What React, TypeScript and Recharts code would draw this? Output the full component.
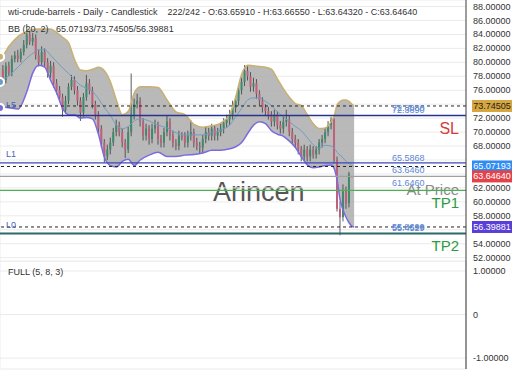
import React from "react";
import {
  Area,
  Bar,
  CartesianGrid,
  ComposedChart,
  Line,
  ReferenceLine,
  XAxis,
  YAxis,
} from "recharts";

const FONT = '"Liberation Sans", Arial, sans-serif';

// daily candles (one entry per ~3px)
const opens = [
  79, 77.5, 79.5, 78.5, 80.5, 81, 80.5, 81.5, 82.5, 84,
  83, 83.5, 81, 80, 81.5, 80, 78.5, 79.5, 77, 76,
  75, 73.2, 74.5, 76.5, 77.5, 76, 74.5, 72.8, 75, 77,
  76, 74, 72.5, 70.5, 68.5, 66.5, 67.5, 68.5, 70, 71,
  70, 68.5, 67.5, 70, 72.5, 74, 74.5, 71.5, 69.5, 70.5,
  69, 70.5, 71, 69, 68.5, 70, 71.5, 69.5, 68.5, 68,
  69.5, 69.5, 68.5, 69.5, 70, 68.5, 68, 67.8, 69, 70,
  69.5, 70.5, 69.5, 70, 70.5, 71.3, 71.8, 72.5, 73.5, 74.5,
  76, 77.2, 78.8, 78, 76.5, 77, 75.5, 74.5, 73.5, 73,
  72.5, 71.5, 72.5, 71, 70.5, 71.5, 71.8, 70, 69, 68.5,
  67.5, 66.5, 67.5, 66.5, 67.5, 66.8, 67.5, 68.5, 69, 70,
  71, 71.8, 66, 59, 57.8, 61.5, 59.8, 63.6591,
];
const highs = [
  79.6, 80.0, 80.1, 81.0, 81.6, 81.8, 82.0, 83.2, 85.5, 84.6,
  84.2, 84.0, 81.8, 82.3, 82.0, 80.6, 80.2, 80.0, 77.6, 76.6,
  75.5, 75.2, 77.0, 78.2, 78.0, 76.6, 75.0, 75.6, 78.2, 77.6,
  76.5, 74.5, 73.0, 71.0, 69.0, 68.2, 69.2, 70.6, 71.8, 71.5,
  70.5, 69.0, 70.8, 78.4, 74.8, 75.5, 75.0, 72.0, 71.2, 71.0,
  71.2, 71.8, 71.5, 69.6, 70.6, 72.3, 72.0, 70.2, 69.0, 70.2,
  70.0, 70.0, 70.2, 71.7, 70.5, 69.2, 68.6, 69.6, 70.8, 70.6,
  71.2, 71.0, 70.6, 71.2, 72.0, 72.5, 73.2, 74.5, 75.2, 76.8,
  77.8, 79.6, 79.4, 78.6, 77.8, 77.6, 76.0, 75.0, 74.0, 73.6,
  73.0, 73.2, 73.0, 71.6, 72.2, 73.2, 72.4, 70.6, 69.6, 69.0,
  68.0, 68.2, 68.0, 68.2, 68.0, 68.0, 69.0, 69.6, 70.6, 71.6,
  72.2, 72.0, 66.5, 60.0, 62.5, 62.2, 64.3, 63.6655,
];
const lows = [
  77.0, 77.0, 78.0, 78.0, 80.0, 80.0, 80.0, 81.0, 82.0, 82.5,
  82.4, 80.4, 79.4, 79.5, 79.4, 77.8, 77.8, 76.4, 75.4, 74.4,
  72.2, 72.6, 74.0, 76.0, 75.4, 73.8, 71.6, 72.2, 74.5, 75.4,
  73.4, 71.8, 69.8, 67.8, 65.6, 66.0, 66.8, 68.0, 69.4, 69.4,
  67.8, 66.3, 67.0, 69.4, 71.8, 73.4, 70.8, 68.8, 68.8, 68.2,
  68.4, 69.8, 68.2, 67.8, 67.8, 69.4, 68.8, 67.8, 67.4, 67.4,
  68.8, 67.8, 67.8, 68.8, 67.8, 67.4, 67.0, 67.0, 68.4, 68.8,
  68.8, 68.8, 68.8, 69.4, 69.8, 70.6, 71.0, 71.8, 72.8, 73.8,
  75.4, 76.6, 77.4, 75.8, 75.8, 74.8, 73.8, 72.8, 72.4, 71.8,
  70.8, 70.8, 70.4, 69.8, 69.8, 70.8, 69.4, 68.4, 67.8, 66.8,
  65.8, 65.8, 65.8, 65.8, 66.2, 66.2, 66.8, 67.8, 68.4, 69.4,
  70.4, 65.5, 58.6, 55.2, 57.2, 59.0, 59.2, 63.6432,
];
const closes = [
  77.5, 79.5, 78.5, 80.5, 81, 80.5, 81.5, 82.5, 84, 83,
  83.5, 81, 80, 81.5, 80, 78.5, 79.5, 77, 76, 75,
  73.2, 74.5, 76.5, 77.5, 76, 74.5, 72.8, 75, 77, 76,
  74, 72.5, 70.5, 68.5, 66.5, 67.5, 68.5, 70, 71, 70,
  68.5, 67.5, 70, 72.5, 74, 74.5, 71.5, 69.5, 70.5, 69,
  70.5, 71, 69, 68.5, 70, 71.5, 69.5, 68.5, 68, 69.5,
  69.2, 68.5, 69.5, 70, 68.5, 68, 67.8, 69, 70, 69.5,
  70.5, 69.5, 70, 70.5, 71.3, 71.8, 72.5, 73.5, 74.5, 76,
  77.2, 78.8, 78, 76.5, 77, 75.5, 74.5, 73.5, 73, 72.5,
  71.5, 72.5, 71, 70.5, 71.5, 71.8, 70, 69, 68.5, 67.5,
  66.5, 67.5, 66.5, 67.5, 66.8, 67.5, 68.5, 69, 70, 71,
  71.8, 66, 59, 57.8, 61.5, 59.8, 64, 63.6464,
];

// Bollinger band (20, 2), sampled along the candle index
const bandDays = [
  -1, 0, 2, 5, 8, 10, 12, 14, 16, 18, 20, 22, 24, 26, 28, 30, 32, 34, 36, 38,
  40, 42, 44, 46, 49, 52, 55, 58, 61, 64, 67, 70, 73, 76, 78, 80, 82, 84, 86, 88,
  90, 92, 94, 96, 98, 100, 102, 104, 106, 108, 110, 111, 112, 113, 114, 115, 116, 117, 117.7,
];
const bandUpper = [
  80.8, 81.0, 82.3, 83.7, 84.4, 84.7, 84.8, 84.8, 84.8, 84.3, 83.6, 82.8, 80.4, 78.9, 78.8, 79.0, 79.3, 78.8, 77.2, 74.6,
  72.5, 73.0, 75.6, 76.5, 76.5, 76.4, 74.6, 72.9, 72.5, 71.1, 70.7, 70.9, 71.3, 72.5, 75.0, 78.3, 79.6, 79.5, 79.4, 79.3,
  79.0, 77.6, 76.2, 75.0, 74.1, 73.8, 72.5, 71.2, 70.5, 70.6, 71.5, 72.3, 73.9, 74.4, 74.6, 74.6, 74.4, 74.0, 73.7,
];
const bandMid = [
  77.2, 77.5, 78.1, 79.3, 80.6, 81.3, 81.8, 81.8, 81.0, 80.1, 79.2, 78.4, 77.5, 76.7, 76.3, 75.8, 74.8, 73.5, 72.4, 71.0,
  70.5, 70.8, 71.6, 71.9, 71.6, 71.0, 70.6, 69.9, 69.6, 69.6, 69.6, 69.9, 70.3, 71.0, 72.2, 73.4, 74.6, 74.9, 74.9, 74.4,
  73.8, 72.9, 72.2, 71.5, 70.8, 70.2, 69.2, 68.2, 67.7, 68.1, 68.0, 67.7, 67.1, 66.7, 66.3, 65.8, 65.5, 65.2, 65.07,
];
const bandLower = [
  73.45, 73.6, 73.5, 73.3, 75.8, 78.5, 79.6, 79.3, 77.4, 75.6, 73.4, 72.5, 72.5, 72.0, 72.1, 71.9, 69.7, 66.4, 65.2, 65.0,
  65.8, 66.1, 65.2, 66.0, 66.7, 67.1, 66.5, 66.5, 66.7, 66.8, 67.0, 67.4, 67.4, 67.6, 67.9, 68.5, 69.8, 71.0, 71.5, 71.2,
  70.2, 69.7, 69.4, 68.7, 67.8, 66.5, 65.3, 64.9, 65.0, 65.2, 65.3, 64.8, 63.1, 60.3, 58.8, 57.8, 57.0, 56.5, 56.4,
];

const priceTicks = [52, 54, 56, 58, 60, 62, 64, 66, 68, 70, 72, 74, 76, 78, 80, 82, 84, 86, 88];
const badgeValues = [73.74505, 65.07193, 63.6464, 56.39881];
const panelTicks = [-1, 0, 1];
const gridDays = [26.1, 52.3, 78.4, 104.5, 130.6];

const candleRows = closes.map((close, i) => ({
  day: i,
  open: opens[i],
  high: highs[i],
  low: lows[i],
  close,
  range: [lows[i], highs[i]],
}));

const bandRows = bandDays.map((day, i) => ({
  day,
  upper: bandUpper[i],
  mid: bandMid[i],
  lower: bandLower[i],
  band: [bandLower[i], bandUpper[i]],
}));

const panelRows = [{ day: -1 }, { day: 155.2 }];

const renderCandle = (props: any) => {
  const { x, y, width, height, payload } = props;
  if (!payload) return null;
  const { open, close, high, low } = payload;
  const top = Math.min(y, y + height);
  const h = Math.abs(height);
  const k = h / (high - low || 1);
  const cx = x + width / 2;
  const up = close >= open;
  const bodyTop = top + (high - Math.max(open, close)) * k;
  const bodyH = Math.max(1, Math.abs(open - close) * k);
  return (
    <g>
      <line x1={cx} x2={cx} y1={top} y2={top + h} stroke="#4a4a4a" strokeWidth={0.9} />
      <rect x={cx - 1} y={bodyTop} width={2} height={bodyH} fill={up ? "#3f8a6c" : "#c0607a"} />
    </g>
  );
};

// price labels that sit under a coloured badge are covered in the original
const renderPriceTick = (props: any) => {
  const { x, y, payload } = props;
  const v = payload.value as number;
  if (badgeValues.some((b) => Math.abs(b - v) < 1)) return <g />;
  return (
    <text x={x} y={y} fontSize={9} fill="#333" fontFamily={FONT} dominantBaseline="central">
      {v.toFixed(5)}
    </text>
  );
};

const renderPanelTick = (props: any) => {
  const { x, y, payload } = props;
  const v = payload.value as number;
  return (
    <text x={x} y={y} fontSize={9} fill="#333" fontFamily={FONT} dominantBaseline="central">
      {v === 0 ? "0" : v.toFixed(5)}
    </text>
  );
};

interface LabelOpts {
  tag?: string;
  tagDy?: number;
  values?: string[];
  valueDy?: number;
  note?: string;
  noteColor?: string;
  noteSize?: number;
  noteDy?: number;
  badge?: string;
  badgeBg?: string;
  badgeFg?: string;
}

const makeLabel = (o: LabelOpts) => (props: any) => {
  const vb = props.viewBox || {};
  const x = vb.x ?? 0;
  const y = vb.y ?? 0;
  const w = vb.width ?? 0;
  return (
    <g fontFamily={FONT}>
      {o.tag && (
        <text x={x + 6} y={y + (o.tagDy ?? -9)} fontSize={9} fill="#4a5fc1" dominantBaseline="central">
          {o.tag}
        </text>
      )}
      {(o.values || []).map((v, i) => (
        <text
          key={v}
          x={x + w - 74}
          y={y + (o.valueDy ?? -6) + i * 1.5}
          fontSize={9}
          fill="#5b86d6"
          dominantBaseline="central"
        >
          {v}
        </text>
      ))}
      {o.note && (
        <text
          x={x + w - 7}
          y={y + (o.noteDy ?? 12)}
          fontSize={o.noteSize ?? 15}
          fill={o.noteColor}
          textAnchor="end"
          dominantBaseline="central"
        >
          {o.note}
        </text>
      )}
      {o.badge && (
        <g>
          <rect x={x + w + 6} y={y - 6} width={40} height={12} fill={o.badgeBg} />
          <text
            x={x + w + 26}
            y={y}
            fontSize={9}
            fill={o.badgeFg}
            textAnchor="middle"
            dominantBaseline="central"
          >
            {o.badge}
          </text>
        </g>
      )}
    </g>
  );
};

const textStyle: React.CSSProperties = {
  position: "absolute",
  left: 8,
  fontSize: 9,
  lineHeight: "11px",
  color: "#333",
  whiteSpace: "pre",
};

export default function App() {
  return (
    <div
      style={{
        position: "relative",
        width: 520,
        height: 390,
        background: "#fff",
        overflow: "hidden",
        fontFamily: FONT,
      }}
    >
      <style>{"body{margin:0}"}</style>
      <div
        style={{
          position: "absolute",
          left: 213,
          top: 176,
          fontSize: 27,
          lineHeight: "32px",
          color: "#555",
        }}
      >
        Arincen
      </div>
      <div style={{ position: "absolute", left: 0, top: 0 }}>
        <ComposedChart
          width={520}
          height={262}
          data={candleRows}
          margin={{ top: 0, right: 0, bottom: 1, left: 0 }}
        >
          <CartesianGrid stroke="#ebebeb" />
          <XAxis
            dataKey="day"
            type="number"
            domain={[-1, 155.2]}
            ticks={gridDays}
            height={0}
            tick={false}
            tickLine={false}
            axisLine={{ stroke: "#444" }}
            allowDataOverflow
          />
          <YAxis
            orientation="right"
            width={54}
            domain={[51.52, 88.94]}
            ticks={priceTicks}
            interval={0}
            tick={renderPriceTick}
            tickLine={false}
            tickSize={4}
            tickMargin={3}
            axisLine={{ stroke: "#444" }}
            allowDataOverflow
          />
          <Area
            data={bandRows}
            dataKey="band"
            type="monotone"
            fill="#adadad"
            fillOpacity={0.85}
            stroke="none"
            isAnimationActive={false}
          />
          <Line data={bandRows} dataKey="mid" type="monotone" stroke="#6f9cc4" strokeWidth={1} dot={false} isAnimationActive={false} />
          <Line data={bandRows} dataKey="upper" type="monotone" stroke="#c8b070" strokeWidth={1.5} dot={false} isAnimationActive={false} />
          <Line data={bandRows} dataKey="lower" type="monotone" stroke="#7b6be0" strokeWidth={1.5} dot={false} isAnimationActive={false} />
          <Bar dataKey="range" barSize={3} shape={renderCandle} isAnimationActive={false} />
          <ReferenceLine
            y={73.74505}
            stroke="#222"
            strokeDasharray="3 3"
            label={makeLabel({ badge: "73.74505", badgeBg: "#d6a73e", badgeFg: "#222" })}
          />
          <ReferenceLine
            y={72.389}
            stroke="#26348f"
            strokeWidth={1.5}
            label={makeLabel({
              tag: "L5",
              tagDy: -10,
              values: ["72.8080", "72.3890"],
              valueDy: -7,
              note: "SL",
              noteColor: "#d63a3a",
              noteSize: 16,
              noteDy: 13,
            })}
          />
          <ReferenceLine
            y={65.5868}
            stroke="#3a4bb8"
            strokeWidth={1.2}
            label={makeLabel({ tag: "L1", values: ["65.5868"], valueDy: -5 })}
          />
          <ReferenceLine
            y={65.07193}
            stroke="#222"
            strokeDasharray="3 3"
            label={makeLabel({ badge: "65.07193", badgeBg: "#2f8cf2", badgeFg: "#fff" })}
          />
          <ReferenceLine
            y={63.646}
            stroke="#a0a0a0"
            strokeWidth={1.2}
            label={makeLabel({
              values: ["63.6460"],
              note: "At Price",
              noteColor: "#8a8a8a",
              noteDy: 13,
              badge: "63.64640",
              badgeBg: "#e2434b",
              badgeFg: "#fff",
            })}
          />
          <ReferenceLine
            y={61.646}
            stroke="#4caf50"
            strokeWidth={1.2}
            label={makeLabel({ values: ["61.6460"], valueDy: -7, note: "TP1", noteColor: "#2e9a40", noteDy: 12 })}
          />
          <ReferenceLine
            y={56.39881}
            stroke="#222"
            strokeDasharray="3 3"
            label={makeLabel({ badge: "56.39881", badgeBg: "#5a3ed8", badgeFg: "#fff" })}
          />
          <ReferenceLine
            y={55.4529}
            stroke="#2a6a6a"
            strokeWidth={2}
            label={makeLabel({
              tag: "L0",
              values: ["55.8690", "55.4529"],
              valueDy: -7,
              note: "TP2",
              noteColor: "#2e9a40",
              noteDy: 12,
            })}
          />
        </ComposedChart>
      </div>
      <div style={{ position: "absolute", left: 0, top: 261 }}>
        <ComposedChart
          width={520}
          height={109}
          data={panelRows}
          margin={{ top: 0, right: 0, bottom: 1, left: 0 }}
        >
          <CartesianGrid stroke="#ebebeb" />
          <XAxis
            dataKey="day"
            type="number"
            domain={[-1, 155.2]}
            ticks={gridDays}
            height={0}
            tick={false}
            tickLine={false}
            axisLine={{ stroke: "#333" }}
          />
          <YAxis
            orientation="right"
            width={54}
            domain={[-1.25, 1.23]}
            ticks={panelTicks}
            interval={0}
            tick={renderPanelTick}
            tickLine={false}
            tickSize={4}
            tickMargin={3}
            axisLine={{ stroke: "#333" }}
            allowDataOverflow
          />
          <Line dataKey="full" stroke="#333" dot={false} isAnimationActive={false} />
        </ComposedChart>
      </div>
      <div style={{ ...textStyle, top: 7 }}>
        {"wti-crude-barrels - Daily - Candlestick    222/242 - O:63.65910 - H:63.66550 - L:63.64320 - C:63.64640"}
      </div>
      <div style={{ ...textStyle, top: 24 }}>{"BB (20, 2)   65.07193/73.74505/56.39881"}</div>
      <div style={{ ...textStyle, top: 267 }}>{"FULL (5, 8, 3)"}</div>
    </div>
  );
}
